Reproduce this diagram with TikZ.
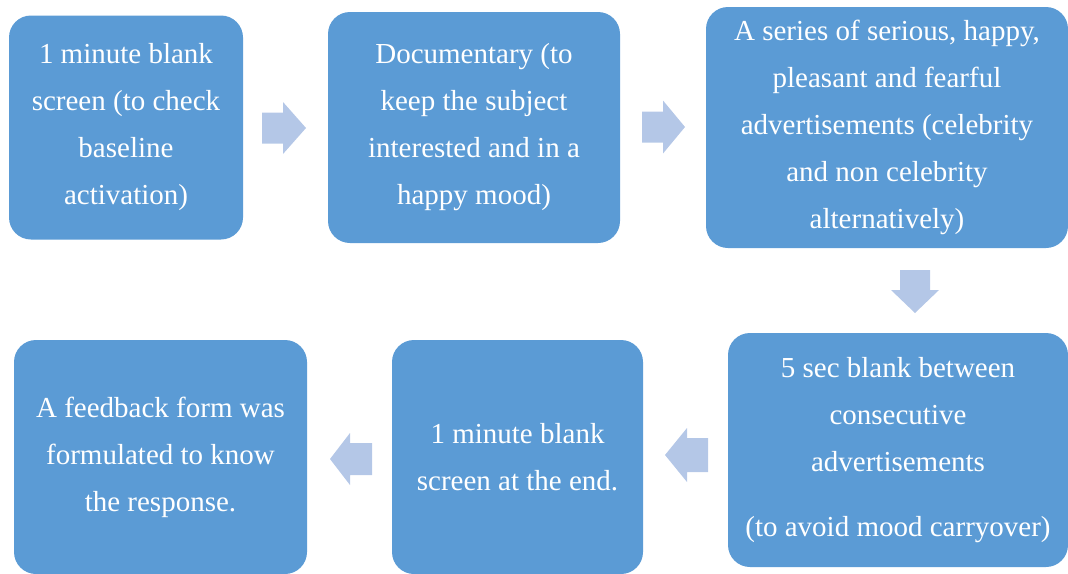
\documentclass[tikz,border=0pt]{standalone}
\usepackage{fontspec}
\setmainfont{Liberation Serif}
\definecolor{boxblue}{HTML}{5B9BD5}
\definecolor{arrowblue}{HTML}{B4C7E7}
\begin{document}
\begin{tikzpicture}[x=1pt,y=-1pt,
  stepbox/.style={fill=boxblue, rounded corners=22pt, text=white, align=center,
    font=\fontsize{29}{47}\selectfont, inner sep=0pt},
  flow/.style={fill=arrowblue}]
\useasboundingbox (0,0) rectangle (1068,573);
% boxes
\node[stepbox, minimum width=234pt, minimum height=224pt] (b1) at (126,127.5)
  {1 minute blank\\screen (to check\\baseline\\activation)};
\node[stepbox, minimum width=292pt, minimum height=231pt] (b2) at (474,127.5)
  {Documentary (to\\keep the subject\\interested and in a\\happy mood)};
\node[stepbox, minimum width=362pt, minimum height=241pt] (b3) at (887,127.5)
  {A series of serious, happy,\\pleasant and fearful\\advertisements (celebrity\\and non celebrity\\alternatively)};
\node[stepbox, minimum width=340pt, minimum height=234pt] (b4) at (898,450)
  {5 sec blank between\\consecutive\\advertisements\\[18pt](to avoid mood carryover)};
\node[stepbox, minimum width=251pt, minimum height=234pt] (b5) at (517.5,457)
  {1 minute blank\\screen at the end.};
\node[stepbox, minimum width=293pt, minimum height=234pt] (b6) at (160.5,457)
  {A feedback form was\\formulated to know\\the response.};
% block arrows
\coordinate (a1) at (262,128);
\fill[flow] (a1) ++(0,-15.5) -- ++(21,0) -- ++(0,-10.5) -- ++(23,26) -- ++(-23,26) -- ++(0,-10.5) -- ++(-21,0) -- cycle;
\coordinate (a2) at (642,127);
\fill[flow] (a2) ++(0,-15.5) -- ++(21,0) -- ++(0,-11) -- ++(22,26.5) -- ++(-22,26.5) -- ++(0,-11) -- ++(-21,0) -- cycle;
\coordinate (a3) at (915,270);
\fill[flow] (a3) ++(-15,0) -- ++(0,20) -- ++(-9,0) -- ++(24,23) -- ++(24,-23) -- ++(-9,0) -- ++(0,-20) -- cycle;
\coordinate (a4) at (708,455);
\fill[flow] (a4) ++(0,-17) -- ++(-21,0) -- ++(0,-10) -- ++(-22,27) -- ++(22,27) -- ++(0,-10) -- ++(21,0) -- cycle;
\coordinate (a5) at (372,459);
\fill[flow] (a5) ++(0,-16) -- ++(-22,0) -- ++(0,-10) -- ++(-20,26) -- ++(20,26) -- ++(0,-10) -- ++(22,0) -- cycle;
\end{tikzpicture}
\end{document}
